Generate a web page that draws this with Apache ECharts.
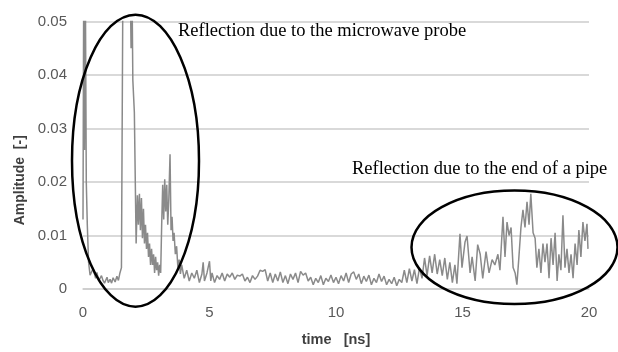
<!DOCTYPE html>
<html><head><meta charset="utf-8">
<script src="https://cdn.jsdelivr.net/npm/echarts@6/dist/echarts.min.js"></script>
<style>html,body{margin:0;padding:0;background:#fff}#c{width:618px;height:352px}</style>
</head><body><div id="c"></div>
<script>
// Probe reflection segment (0 - 3.9 ns)
const probeTime = [0, 0.03, 0.06, 0.09, 0.13, 0.17, 0.22, 0.28, 0.4, 0.5, 0.55, 0.62, 0.67, 0.73, 0.79, 0.85, 0.95, 1.0, 1.07, 1.13, 1.19, 1.27, 1.34, 1.4, 1.46, 1.52, 1.58, 1.86, 1.9, 1.93, 1.97, 2.03, 2.1, 2.15, 2.19, 2.23, 2.27, 2.31, 2.35, 2.39, 2.43, 2.47, 2.51, 2.55, 2.59, 2.63, 2.67, 2.71, 2.75, 2.79, 2.83, 2.87, 2.91, 2.95, 2.99, 3.03, 3.07, 3.11, 3.15, 3.19, 3.23, 3.27, 3.31, 3.35, 3.39, 3.44, 3.48, 3.52, 3.56, 3.6, 3.65, 3.7, 3.75, 3.8, 3.85];
const probeAmp = [0.013, 0.06, 0.026, 0.06, 0.02, 0.012, 0.005, 0.0026, 0.0038, 0.002, 0.0031, 0.0015, 0.0013, 0.0025, 0.0016, 0.0011, 0.0022, 0.0012, 0.0018, 0.0011, 0.0021, 0.0013, 0.0024, 0.0016, 0.003, 0.004, 0.06, 0.06, 0.045, 0.06, 0.039, 0.033, 0.0085, 0.0175, 0.012, 0.0178, 0.011, 0.017, 0.0095, 0.015, 0.0085, 0.012, 0.0075, 0.0105, 0.006, 0.0085, 0.0045, 0.0075, 0.0045, 0.0065, 0.003, 0.006, 0.0035, 0.005, 0.0025, 0.0045, 0.003, 0.012, 0.0195, 0.013, 0.0205, 0.0145, 0.0195, 0.012, 0.0165, 0.0252, 0.011, 0.0135, 0.009, 0.0105, 0.0065, 0.008, 0.004, 0.0055, 0.0028];
// Noise floor segment (3.9 - 14.8 ns)
const floorTime = [3.9, 4.0, 4.1, 4.2, 4.3, 4.4, 4.5, 4.6, 4.7, 4.75, 4.8, 4.9, 5.0, 5.05, 5.1, 5.2, 5.3, 5.4, 5.5, 5.6, 5.7, 5.8, 5.9, 6.0, 6.1, 6.2, 6.3, 6.4, 6.5, 6.6, 6.7, 6.8, 6.9, 7.0, 7.1, 7.2, 7.3, 7.4, 7.5, 7.6, 7.7, 7.8, 7.9, 8.0, 8.1, 8.2, 8.3, 8.4, 8.5, 8.6, 8.7, 8.8, 8.9, 9.0, 9.1, 9.2, 9.3, 9.4, 9.5, 9.6, 9.7, 9.8, 9.9, 10.0, 10.1, 10.2, 10.3, 10.4, 10.5, 10.6, 10.7, 10.8, 10.9, 11.0, 11.1, 11.2, 11.3, 11.4, 11.5, 11.6, 11.7, 11.8, 11.9, 12.0, 12.1, 12.2, 12.3, 12.4, 12.5, 12.6, 12.7, 12.8, 12.9, 13.0, 13.1, 13.2, 13.3, 13.4, 13.5, 13.6, 13.7, 13.8, 13.9, 14.0, 14.1, 14.2, 14.3, 14.4, 14.5, 14.6, 14.7, 14.78];
const floorAmp = [0.0045, 0.002, 0.0035, 0.0015, 0.003, 0.002, 0.0035, 0.0012, 0.0028, 0.005, 0.0015, 0.003, 0.0052, 0.0015, 0.003, 0.0012, 0.0025, 0.0018, 0.003, 0.0015, 0.0028, 0.0022, 0.003, 0.0018, 0.0026, 0.0024, 0.0028, 0.0015, 0.0022, 0.0012, 0.0025, 0.0018, 0.0024, 0.0035, 0.0033, 0.0036, 0.0015, 0.003, 0.0012, 0.0028, 0.0015, 0.0032, 0.0012, 0.0025, 0.001, 0.0028, 0.0018, 0.003, 0.0012, 0.0033, 0.0026, 0.003, 0.0015, 0.0022, 0.0008, 0.002, 0.0012, 0.0025, 0.0008, 0.002, 0.0014, 0.0026, 0.0012, 0.0022, 0.001, 0.0025, 0.0015, 0.003, 0.0012, 0.0028, 0.0032, 0.0018, 0.0028, 0.001, 0.0024, 0.0014, 0.0026, 0.0008, 0.002, 0.0012, 0.0028, 0.0014, 0.0024, 0.0008, 0.0018, 0.001, 0.0022, 0.0006, 0.0018, 0.0012, 0.0035, 0.0012, 0.0038, 0.0015, 0.0036, 0.001, 0.004, 0.002, 0.0058, 0.0025, 0.0062, 0.003, 0.0065, 0.0028, 0.0055, 0.0025, 0.0058, 0.0018, 0.005, 0.0012, 0.0045, 0.001];
// Pipe-end reflection segment (14.9 - 20 ns)
const pipeTime = [14.9, 14.98, 15.1, 15.18, 15.3, 15.38, 15.5, 15.6, 15.7, 15.8, 15.93, 16.05, 16.17, 16.28, 16.4, 16.48, 16.6, 16.68, 16.76, 16.84, 16.92, 17.0, 17.08, 17.15, 17.23, 17.31, 17.39, 17.47, 17.55, 17.63, 17.7, 17.79, 17.87, 17.94, 18.02, 18.1, 18.18, 18.26, 18.34, 18.42, 18.5, 18.58, 18.66, 18.74, 18.81, 18.89, 18.97, 19.05, 19.13, 19.21, 19.29, 19.37, 19.45, 19.53, 19.6, 19.68, 19.76, 19.84, 19.92, 19.96];
const pipeAmp = [0.0103, 0.004, 0.0088, 0.0099, 0.003, 0.006, 0.0015, 0.0083, 0.0065, 0.002, 0.007, 0.003, 0.0055, 0.0045, 0.0065, 0.0035, 0.0135, 0.006, 0.0125, 0.01, 0.0115, 0.004, 0.003, 0.0008, 0.006, 0.0115, 0.0148, 0.0115, 0.0163, 0.012, 0.0178, 0.0105, 0.0095, 0.004, 0.0075, 0.003, 0.0085, 0.005, 0.0085, 0.002, 0.0095, 0.0045, 0.0105, 0.0015, 0.0065, 0.0035, 0.0138, 0.004, 0.0075, 0.003, 0.0065, 0.002, 0.0085, 0.0045, 0.011, 0.006, 0.0125, 0.009, 0.0122, 0.0075];
const xTicks = [0, 5, 10, 15, 20];
const yTicks = [0, 0.01, 0.02, 0.03, 0.04, 0.05];
const notes = ['Reflection due to the microwave probe', 'Reflection due to the end of a pipe'];

const times = probeTime.concat(floorTime, pipeTime);
const amps = probeAmp.concat(floorAmp, pipeAmp);
const seriesData = times.map((t, i) => [t, amps[i]]);

const chart = echarts.init(document.getElementById('c'), null, {renderer: 'canvas'});
const labelFont = {color: '#595959', fontSize: 15, fontFamily: 'Liberation Sans'};
chart.setOption({
  animation: false,
  grid: {left: 83, right: 29, top: 21.5, bottom: 58},
  xAxis: {
    type: 'value', min: xTicks[0], max: xTicks[xTicks.length - 1], interval: 5,
    name: 'time   [ns]', nameLocation: 'middle', nameGap: 43,
    nameTextStyle: {fontWeight: 'bold', fontSize: 14.5, color: '#404040', fontFamily: 'Liberation Sans'},
    axisLine: {show: true, lineStyle: {color: '#cccccc', width: 1.5}},
    axisTick: {show: false}, splitLine: {show: false},
    axisLabel: Object.assign({margin: 16}, labelFont)
  },
  yAxis: {
    type: 'value', min: yTicks[0], max: yTicks[yTicks.length - 1], interval: 0.01,
    name: 'Amplitude  [-]', nameLocation: 'middle', nameGap: 56, nameRotate: 90,
    nameTextStyle: {fontWeight: 'bold', fontSize: 14, color: '#404040', fontFamily: 'Liberation Sans', padding: [0, 50, 0, 0]},
    axisLine: {show: false}, axisTick: {show: false},
    splitLine: {show: true, lineStyle: {color: '#cccccc', width: 1.5}},
    axisLabel: Object.assign({margin: 16, formatter: v => v === 0 ? '0' : v.toFixed(2)}, labelFont)
  },
  series: [{
    type: 'line', data: seriesData, symbol: 'none', clip: true,
    lineStyle: {color: '#8a8a8a', width: 1.5}
  }],
  graphic: [
    {type: 'ellipse', z: 100, shape: {cx: 135.5, cy: 160.7, rx: 63.5, ry: 146}, style: {fill: 'none', stroke: '#000', lineWidth: 2.5}},
    {type: 'ellipse', z: 100, shape: {cx: 514.5, cy: 247.3, rx: 103, ry: 56.7}, style: {fill: 'none', stroke: '#000', lineWidth: 2.5}},
    {type: 'text', z: 101, left: 178, top: 22, style: {text: notes[0], fill: '#000', font: '18.5px "Liberation Serif"'}},
    {type: 'text', z: 101, left: 352, top: 160, style: {text: notes[1], fill: '#000', font: '18.5px "Liberation Serif"'}}
  ]
});
</script></body></html>
